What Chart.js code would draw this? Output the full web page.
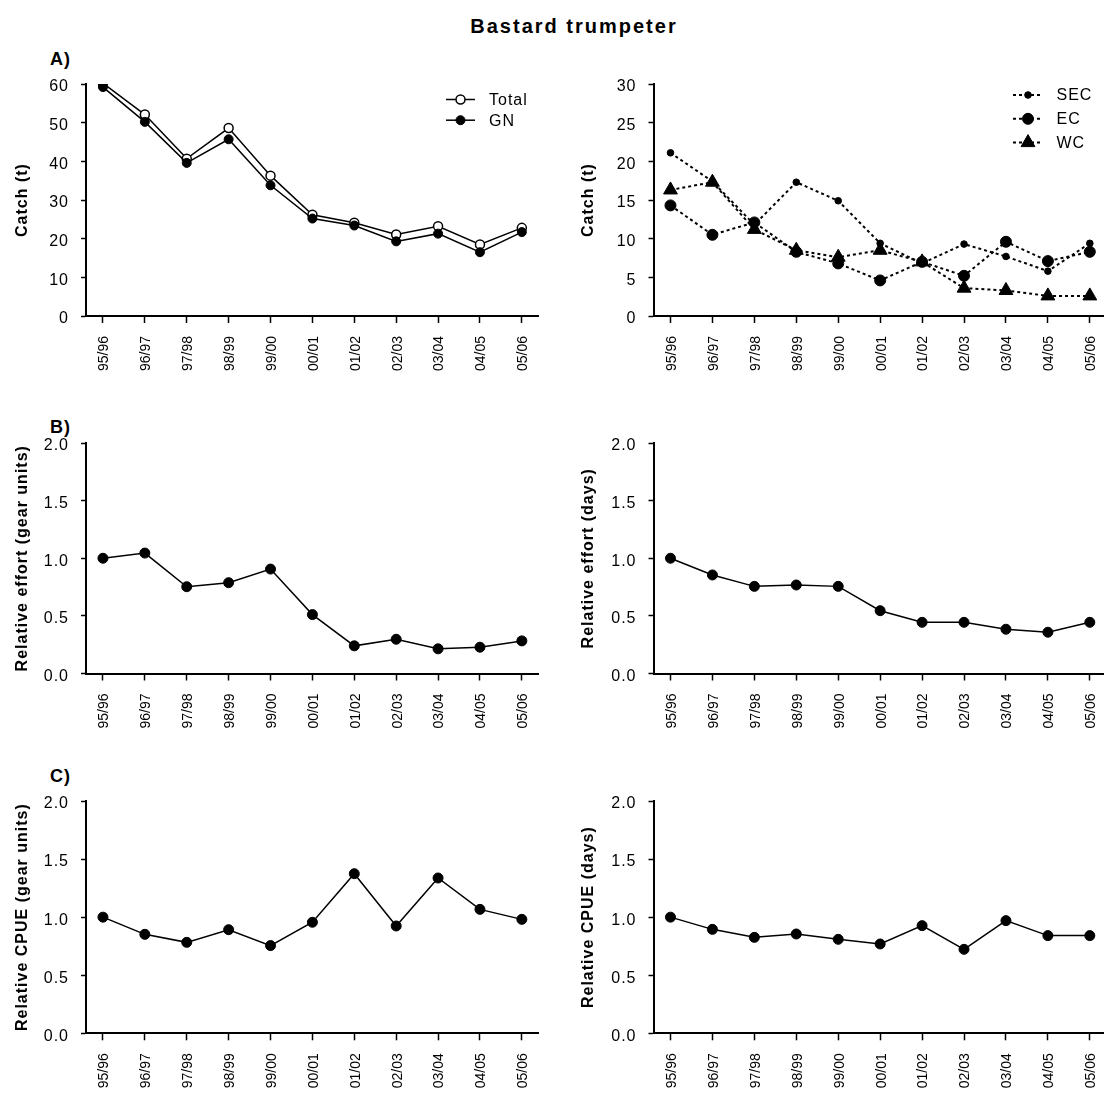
<!DOCTYPE html>
<html><head><meta charset="utf-8">
<script src="https://cdn.jsdelivr.net/npm/chart.js@4.4.0/dist/chart.umd.min.js"></script>
<style>
html,body{margin:0;padding:0;background:#fff;overflow:hidden;width:1104px;height:1097px;}
body{position:relative;font-family:"Liberation Sans",Arial,sans-serif;}
.txt{position:absolute;font-weight:bold;color:#000;line-height:1;white-space:nowrap;}
canvas{position:absolute;}
</style></head><body>
<div class="txt" style="left:574px;top:16px;font-size:20px;letter-spacing:2px;transform:translateX(-50%)">Bastard trumpeter</div>
<div class="txt" style="left:50px;top:50px;font-size:18px;letter-spacing:1px">A)</div>
<div class="txt" style="left:50px;top:418px;font-size:18px;letter-spacing:1px">B)</div>
<div class="txt" style="left:50px;top:767px;font-size:18px;letter-spacing:1px">C)</div>
<canvas id="tl" width="552" height="346" style="left:0;top:40px"></canvas>
<canvas id="tr" width="560" height="346" style="left:560px;top:40px"></canvas>
<canvas id="ml" width="552" height="346" style="left:0;top:399px"></canvas>
<canvas id="mr" width="560" height="346" style="left:560px;top:399px"></canvas>
<canvas id="bl" width="552" height="346" style="left:0;top:757px"></canvas>
<canvas id="br" width="560" height="346" style="left:560px;top:757px"></canvas>
<script>
const seasons = ['95/96','96/97','97/98','98/99','99/00','00/01','01/02','02/03','03/04','04/05','05/06'];
const catchTotal = [60.2, 52.1, 40.7, 48.6, 36.3, 26.2, 24.1, 21.1, 23.2, 18.5, 22.8];
const catchGN    = [59.2, 50.2, 39.6, 45.7, 33.8, 25.2, 23.4, 19.3, 21.3, 16.5, 21.7];
const catchSEC   = [21.1, 17.4, 11.8, 17.3, 14.9, 9.4, 6.8, 9.3, 7.7, 5.8, 9.4];
const catchEC    = [14.3, 10.5, 12.1, 8.3, 6.8, 4.6, 7.0, 5.2, 9.6, 7.1, 8.3];
const catchWC    = [16.3, 17.3, 11.2, 8.5, 7.6, 8.5, 7.0, 3.6, 3.3, 2.6, 2.6];
const effortGear = [1.00, 1.045, 0.753, 0.788, 0.906, 0.511, 0.240, 0.297, 0.214, 0.228, 0.283];
const effortDays = [1.00, 0.855, 0.756, 0.768, 0.756, 0.545, 0.444, 0.444, 0.384, 0.358, 0.444];
const cpueGear   = [1.00, 0.852, 0.783, 0.892, 0.755, 0.956, 1.374, 0.924, 1.337, 1.067, 0.981];
const cpueDays   = [1.00, 0.895, 0.826, 0.855, 0.809, 0.769, 0.927, 0.723, 0.970, 0.841, 0.841];
const catchAxisMax = 60, regionAxisMax = 30, relAxisMax = 2;
const catchStep = 10, regionStep = 5, relStep = 0.5;

const FONT = '"Liberation Sans", Arial, sans-serif';
Chart.defaults.font.family = FONT;
Chart.defaults.color = '#000';

const pts = arr => arr.map((v, i) => ({x: i, y: v}));

// letter spacing like the original export: 1px for most text, none for the 14px season labels
const spacingPlugin = {
  id: 'spacing',
  beforeDraw(chart) {
    const ctx = chart.ctx;
    if (!ctx._spacedFill) {
      const orig = ctx.fillText;
      ctx.fillText = function () {
        this.letterSpacing = /(^|\s)14px/.test(this.font) ? '0px' : '1px';
        return orig.apply(this, arguments);
      };
      ctx._spacedFill = true;
    }
  }
};

const legendPlugin = {
  id: 'seriesKey',
  afterDraw(chart, args, opts) {
    if (!opts || opts.x === undefined) return;
    const ctx = chart.ctx;
    chart.data.datasets.forEach((ds, i) => {
      const y = opts.y + i * opts.gap;
      ctx.save();
      ctx.strokeStyle = ds.borderColor;
      ctx.lineWidth = ds.borderWidth;
      ctx.setLineDash(ds.borderDash || []);
      ctx.beginPath(); ctx.moveTo(opts.x, y); ctx.lineTo(opts.x + opts.len, y); ctx.stroke();
      ctx.setLineDash([]);
      ctx.fillStyle = ds.pointBackgroundColor;
      ctx.strokeStyle = ds.pointBorderColor;
      ctx.lineWidth = ds.pointBorderWidth;
      Chart.helpers.drawPoint(ctx, {pointStyle: ds.pointStyle, radius: ds.pointRadius, borderWidth: ds.pointBorderWidth, rotation: 0}, opts.x + opts.len / 2, y);
      ctx.fillStyle = '#000';
      ctx.font = '16px ' + FONT;
      ctx.textBaseline = 'middle';
      ctx.textAlign = 'left';
      ctx.fillText(ds.label, opts.textX, y + 1);
      ctx.restore();
    });
  }
};

function lineDs(label, arr, o) {
  return Object.assign({
    label, data: pts(arr), borderColor: '#000', borderWidth: 1.5,
    pointStyle: 'circle', pointRadius: 5, pointBackgroundColor: '#000',
    pointBorderColor: '#000', pointBorderWidth: 1, tension: 0, fill: false
  }, o || {});
}

const XH = 60;
function makeChart(id, cfg) {
  const canvas = document.getElementById(id);
  const W = canvas.width, H = canvas.height;
  const a = cfg.area;
  return new Chart(canvas, {
    type: 'line',
    data: {datasets: cfg.datasets},
    options: {
      responsive: false, animation: false, events: [],
      layout: {padding: {left: 0, top: a.top, right: W - a.right, bottom: H - a.bottom - XH}},
      plugins: {legend: {display: false}, tooltip: {enabled: false}, seriesKey: cfg.legend || {}},
      scales: {
        x: {
          type: 'linear', bounds: 'data', min: -0.405, max: 10.405,
          afterFit: s => { s.height = XH; },
          afterBuildTicks: s => { s.ticks = seasons.map((_, i) => ({value: i})); },
          ticks: {callback: v => seasons[v], autoSkip: false, minRotation: 90, maxRotation: 90,
                  padding: 13, labelOffset: 1.5, font: {size: 14}, color: '#000'},
          grid: {drawOnChartArea: false, drawTicks: true, tickLength: 7, tickWidth: 1.5, tickColor: '#000'},
          border: {display: true, color: '#000', width: 2}
        },
        y: {
          min: 0, max: cfg.ymax,
          afterFit: s => { s.width = a.left; },
          ticks: {stepSize: cfg.step, callback: cfg.fmt, padding: 12, labelOffset: 3,
                  font: {size: 16}, color: '#000'},
          grid: {drawOnChartArea: false, drawTicks: true, tickLength: 5, tickWidth: 1.5, tickColor: '#000'},
          border: {display: true, color: '#000', width: 2},
          title: {display: true, text: cfg.ytitle, color: '#000',
                  font: {size: 16, weight: 'bold'}, padding: {top: cfg.tpad, bottom: 0}}
        }
      }
    },
    plugins: [spacingPlugin, legendPlugin]
  });
}

const fmtInt = v => String(v);
const fmt1 = v => v.toFixed(1);
const areaL = (top, bottom) => ({left: 86, right: 542.5, top, bottom});
const areaR = (top, bottom) => ({left: 93.5, right: 550, top, bottom});

makeChart('tl', {
  area: areaL(44, 276), ymax: catchAxisMax, step: catchStep, fmt: fmtInt, ytitle: 'Catch (t)', tpad: 13.4,
  legend: {x: 446, y: 59.5, gap: 20.7, len: 29, textX: 489},
  datasets: [
    lineDs('Total', catchTotal, {pointBackgroundColor: '#fff', pointRadius: 4.5, pointBorderWidth: 1.5, order: 2}),
    lineDs('GN', catchGN, {pointRadius: 4.5, order: 1})
  ]
});
makeChart('tr', {
  area: areaR(44, 276), ymax: regionAxisMax, step: regionStep, fmt: fmtInt, ytitle: 'Catch (t)', tpad: 19.4,
  legend: {x: 453, y: 55, gap: 23.8, len: 30, textX: 496.5},
  datasets: [
    lineDs('SEC', catchSEC, {borderDash: [3, 3], borderWidth: 2, pointRadius: 3.3, order: 3}),
    lineDs('EC', catchEC, {borderDash: [3, 3], borderWidth: 2, pointRadius: 5.5, order: 2}),
    lineDs('WC', catchWC, {borderDash: [3, 3], borderWidth: 2, pointStyle: 'triangle', pointRadius: 8, order: 1})
  ]
});
makeChart('ml', {
  area: areaL(44, 274.5), ymax: relAxisMax, step: relStep, fmt: fmt1, ytitle: 'Relative effort (gear units)', tpad: 13.4,
  datasets: [lineDs('Effort', effortGear)]
});
makeChart('mr', {
  area: areaR(44, 274.5), ymax: relAxisMax, step: relStep, fmt: fmt1, ytitle: 'Relative effort (days)', tpad: 19.4,
  datasets: [lineDs('Effort', effortDays)]
});
makeChart('bl', {
  area: areaL(44, 276.3), ymax: relAxisMax, step: relStep, fmt: fmt1, ytitle: 'Relative CPUE (gear units)', tpad: 13.4,
  datasets: [lineDs('CPUE', cpueGear)]
});
makeChart('br', {
  area: areaR(44, 276.3), ymax: relAxisMax, step: relStep, fmt: fmt1, ytitle: 'Relative CPUE (days)', tpad: 19.4,
  datasets: [lineDs('CPUE', cpueDays)]
});
</script>
</body></html>
